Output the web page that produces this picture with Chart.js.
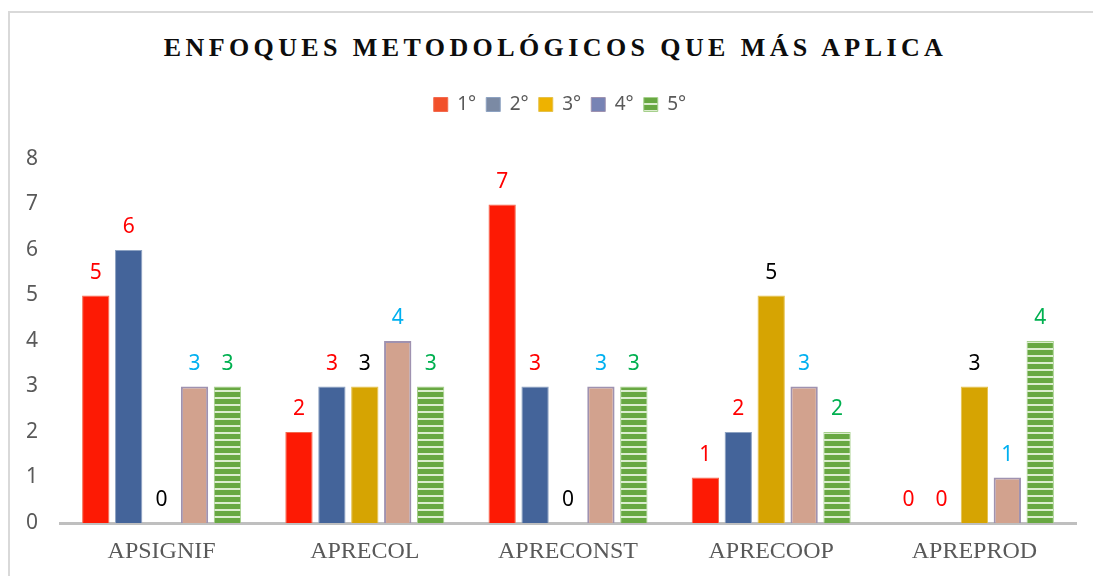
<!DOCTYPE html>
<html lang="es">
<head>
    <meta charset="utf-8">
    <title>Enfoques metodológicos que más aplica</title>
    <script src="https://cdn.jsdelivr.net/npm/chart.js"></script>
    <style>
        body { margin: 0; background: #fff; }
        #wrap { position: relative; width: 1093px; height: 576px; overflow: hidden; background: #fff; }
        #marco { position: absolute; left: 8px; top: 11px; width: 1120px; height: 620px; border: 2px solid #d9d9d9; }
        #titulo {
            position: absolute; left: 9px; top: 33px; width: 1093px; text-align: center;
            font-family: "Liberation Serif", "Times New Roman", serif; font-weight: bold;
            font-size: 26px; line-height: 30px; letter-spacing: 4.4px; color: #0d0d0d;
        }
        #grafico { position: absolute; left: 0; top: 0; }
    </style>
</head>
<body>
<div id="wrap">
    <div id="marco"></div>
    <div id="titulo">ENFOQUES METODOLÓGICOS QUE MÁS APLICA</div>
    <canvas id="grafico" width="1093" height="576"></canvas>
</div>

<script>
    // datos
    var categorias = ['APSIGNIF', 'APRECOL', 'APRECONST', 'APRECOOP', 'APREPROD'];
    var series = ['1°', '2°', '3°', '4°', '5°'];
    var valores1 = [5, 2, 7, 1, 0];
    var valores2 = [6, 3, 3, 2, 0];
    var valores3 = [0, 3, 0, 5, 3];
    var valores4 = [3, 4, 3, 3, 1];
    var valores5 = [3, 3, 3, 2, 4];
    var ticksY = [0, 1, 2, 3, 4, 5, 6, 7, 8];

    // rayas horizontales de la serie 5°
    function patronRayas() {
        var c = document.createElement('canvas');
        c.width = 8; c.height = 7;
        var g = c.getContext('2d');
        g.fillStyle = '#68a842';
        g.fillRect(0, 0, 8, 7);
        g.fillStyle = '#dcedcf';
        g.fillRect(0, 5, 8, 2);
        return g.createPattern(c, 'repeat');
    }
    var rayas = patronRayas();

    var rellenos = ['#fd1a04', '#44649a', '#d6a402', '#d2a28e', rayas];
    var bordes = ['#f36a4e', '#8da2c2', '#e5c14a', '#9f92b0', '#a6d08c'];
    var anchosBorde = [1, 1, 1, 2, 1];
    var coloresLeyenda = ['#f2502a', '#7b8aa4', '#eeb200', '#7783b4', rayas];
    var coloresEtiqueta = ['#ff0000', '#ff0000', '#000000', '#00b0f0', '#00b050'];

    var todos = [valores1, valores2, valores3, valores4, valores5];
    var datasets = [];
    for (var i = 0; i < series.length; i++) {
        datasets.push({
            label: series[i],
            data: todos[i],
            backgroundColor: rellenos[i],
            borderColor: bordes[i],
            borderWidth: anchosBorde[i],
            barPercentage: 0.83,
            categoryPercentage: 0.81
        });
    }

    // valores encima de cada barra
    var etiquetasValor = {
        id: 'etiquetasValor',
        afterDatasetsDraw: function(chart) {
            var ctx = chart.ctx;
            ctx.save();
            ctx.font = '21px "Noto Sans", sans-serif';
            ctx.textAlign = 'center';
            ctx.textBaseline = 'alphabetic';
            chart.data.datasets.forEach(function(ds, di) {
                var meta = chart.getDatasetMeta(di);
                ctx.fillStyle = coloresEtiqueta[di];
                meta.data.forEach(function(bar, j) {
                    ctx.fillText(String(ds.data[j]), bar.x, bar.y - 17);
                });
            });
            ctx.restore();
        }
    };

    var ajusteLeyenda = {
        id: 'ajusteLeyenda',
        beforeInit: function(chart) {
            var fit = chart.legend.fit;
            chart.legend.fit = function() {
                fit.bind(chart.legend)();
                this.height += 35;
            };
        },
        afterLayout: function(chart) {
            chart.legend.left += 44;
        }
    };

    var ctx = document.getElementById('grafico').getContext('2d');
    var myChart = new Chart(ctx, {
        type: 'bar',
        data: {
            labels: categorias,
            datasets: datasets
        },
        options: {
            responsive: false,
            animation: false,
            layout: {
                padding: { top: 85, left: 0, right: 17, bottom: 0 }
            },
            plugins: {
                title: { display: false },
                tooltip: { enabled: false },
                legend: {
                    position: 'top',
                    labels: {
                        boxWidth: 14,
                        boxHeight: 14,
                        padding: 10,
                        color: '#595959',
                        font: { family: '"Noto Sans", sans-serif', size: 19 },
                        generateLabels: function(chart) {
                            return chart.data.datasets.map(function(ds, k) {
                                return {
                                    text: ds.label,
                                    fillStyle: coloresLeyenda[k],
                                    strokeStyle: bordes[k],
                                    lineWidth: 1,
                                    fontColor: '#595959',
                                    hidden: false,
                                    datasetIndex: k
                                };
                            });
                        }
                    }
                }
            },
            scales: {
                x: {
                    afterFit: function(scale) { scale.height = 53; },
                    grid: { display: false, drawTicks: false },
                    border: { display: true, color: '#bfbfbf', width: 3 },
                    ticks: {
                        color: '#595959',
                        padding: 14,
                        font: { family: '"Liberation Serif", "Times New Roman", serif', size: 24 }
                    }
                },
                y: {
                    min: 0,
                    max: 8,
                    afterFit: function(scale) { scale.width = 60; },
                    afterBuildTicks: function(scale) {
                        scale.ticks = ticksY.map(function(v) { return { value: v }; });
                    },
                    grid: { display: false, drawTicks: false },
                    border: { display: false },
                    ticks: {
                        color: '#595959',
                        padding: 22,
                        font: { family: '"Noto Sans", sans-serif', size: 21 }
                    }
                }
            }
        },
        plugins: [etiquetasValor, ajusteLeyenda]
    });
</script>
</body>
</html>
